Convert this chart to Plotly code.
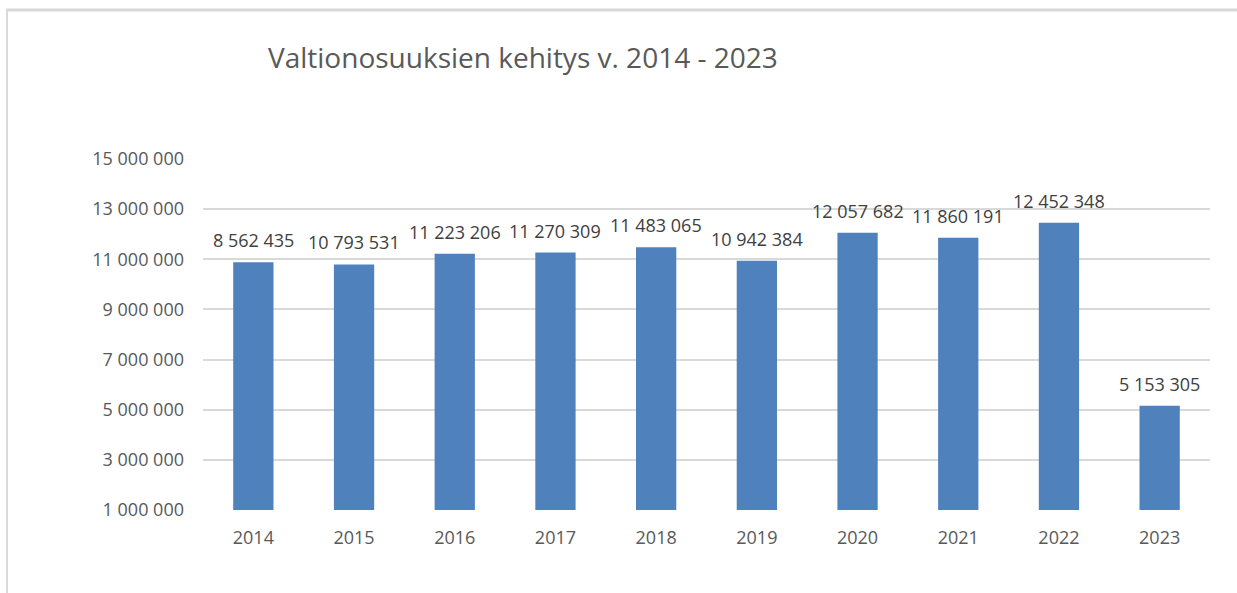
import plotly.graph_objects as go

W, H = 1237, 593

# Data
years = ["2014", "2015", "2016", "2017", "2018", "2019", "2020", "2021", "2022", "2023"]
bar_values = [10880000, 10793531, 11223206, 11270309, 11483065, 10942384, 12057682, 11860191, 12452348, 5153305]
label_texts = ["8 562 435", "10 793 531", "11 223 206", "11 270 309", "11 483 065",
               "10 942 384", "12 057 682", "11 860 191", "12 452 348", "5 153 305"]
y_ticks = [1000000, 3000000, 5000000, 7000000, 9000000, 11000000, 13000000, 15000000]

FONT = "Open Sans"
GRAY = "#595959"

fig = go.Figure()
fig.add_trace(go.Bar(
    x=years, y=bar_values,
    marker=dict(color="#4f81bd", line=dict(width=0)),
    hoverinfo="x+y",
))

annotations = []
for i, (v, t) in enumerate(zip(bar_values, label_texts)):
    annotations.append(dict(
        x=i, y=v, xref="x", yref="y", text=t, showarrow=False,
        yanchor="middle", xanchor="center", yshift=22,
        font=dict(family=FONT, size=18, color="#404040"),
    ))

ml, mr, mt, mb = 203, 27, 159, 83
def px_x(x):
    return (x - ml) / (W - ml - mr)
def px_y(y):
    return (H - mb - y) / (H - mt - mb)

shapes = [
    dict(type="line", xref="paper", yref="paper", x0=px_x(6), x1=px_x(W + 5),
         y0=px_y(10), y1=px_y(10), line=dict(color="#d9d9d9", width=3)),
    dict(type="line", xref="paper", yref="paper", x0=px_x(7), x1=px_x(7),
         y0=px_y(9), y1=px_y(H + 5), line=dict(color="#d9d9d9", width=2)),
]

fig.update_layout(
    width=W, height=H,
    margin=dict(l=ml, r=mr, t=mt, b=mb, pad=0),
    paper_bgcolor="white", plot_bgcolor="white",
    separators=". ",
    bargap=0.6,
    showlegend=False,
    title=dict(
        text="Valtionosuuksien kehitys v. 2014 - 2023",
        xref="container", yref="container",
        x=268 / W, xanchor="left", y=1 - 58 / H, yanchor="middle",
        font=dict(family=FONT, size=28, color=GRAY),
    ),
    font=dict(family=FONT, color=GRAY),
    annotations=annotations,
    shapes=shapes,
    xaxis=dict(
        type="category", range=[-0.5, len(years) - 0.5],
        showgrid=False, showline=False, ticks="",
        tickfont=dict(family=FONT, size=18, color=GRAY),
        ticklabelstandoff=15,
    ),
    yaxis=dict(
        range=[1000000, 15000000], tickvals=y_ticks, tickformat=",d",
        showgrid=True, gridcolor="#d9d9d9", gridwidth=1.5,
        zeroline=False, showline=False, ticks="",
        tickfont=dict(family=FONT, size=18, color=GRAY),
        ticklabelstandoff=18,
    ),
)

fig.write_html("out.html")
